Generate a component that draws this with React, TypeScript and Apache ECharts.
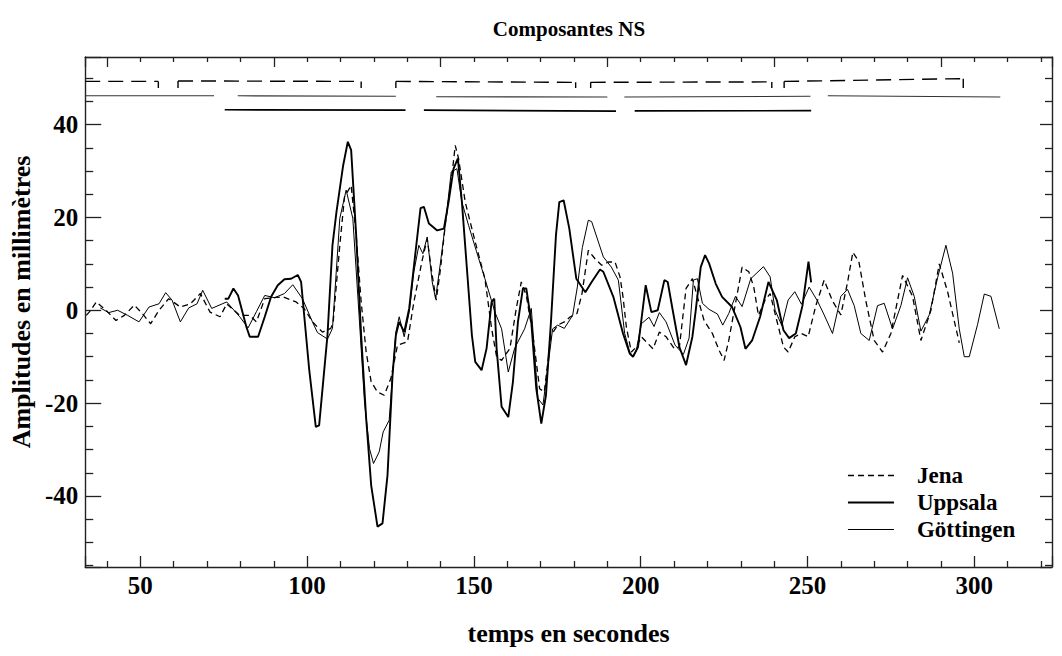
import { useEffect, useRef } from 'react';
import * as echarts from 'echarts';

const FONT = '"Liberation Serif", "Times New Roman", Times, serif';

const xRange = [33.48, 323.3];
const yRange = [-55.3, 54.56];

const jena: number[][] = [
  [33.8,-1.1],[34.8,-0.3],[36.8,1.8],[39.7,0],[42.7,-2.2],[45.2,-1.1],[48.2,1.1],[50.6,-0.7],[53.1,-2.9],[55.6,0],
  [58.5,2.5],[62,0.7],[65,1.4],[68,3.6],[70.9,-0.4],[73.9,-1.4],[75.9,1.4],[79.8,-1.1],[82.8,-1.1],[84.8,-2.5],
  [87.3,2.5],[89.7,2.7],[92.7,2.9],[96.7,1.8],[99.1,0.4],[101.6,-2.5],[104.6,-4.7],[107.1,-3.9],[107.8,-2.5],[109.8,14],
  [111.2,24.4],[113.2,26.9],[114.7,16.2],[116.2,1.8],[117.7,-9],[119.2,-15.4],[121.1,-17.6],[123.1,-18.3],[125.1,-14.7],[127.1,-7.5],
  [130.1,-6.8],[132,1.8],[134.5,10.8],[136,15.4],[137.5,7.5],[138.7,2.2],[140,9],[141.4,18.3],[143.4,29.1],[144.4,35.5],
  [145.4,32.7],[147.4,23.3],[150.4,14.7],[153.3,6.8],[155.3,-3.9],[156.8,-10],[158.3,-10.8],[160.8,-8.2],[162.7,0.4],[164.2,6.1],
  [165.7,3.2],[167.7,-5.4],[169.7,-16.9],[171.1,-17.6],[173.1,-5.4],[175.1,-3.2],[177.1,-2.5],[178.9,-1.4],[180.9,-0.7],[182.4,3.6],
  [184.3,12.9],[186.3,11.1],[188.3,9.7],[190.3,10.4],[192.3,10.4],[193.8,7.2],[194.7,2.9],[195.7,-3.6],[197.2,-9],[198.7,-7.9],
  [200.2,-5.7],[202.2,-7.2],[203.7,-8.3],[205.6,-4.7],[207.6,-5.7],[210.1,-8.3],[211.6,-7.9],[213.6,4.7],[215.5,6.8],[217,2.9],
  [219,-2.2],[221.5,-5],[223.5,-8.6],[225,-10.8],[226.4,-6.5],[228.4,1.4],[230.4,9.3],[232.4,8.3],[233.9,5],[235.3,-1.1],
  [237.3,2.2],[238.8,3.6],[240.8,-2.2],[242.8,-7.9],[244.2,-9],[246.2,-5.7],[248.2,-5],[250.2,-5.7],[252.5,1],[255,6.5],
  [257.5,2],[260,-1],[262,6],[263.6,12.5],[265.4,10.5],[267.5,2],[270,-6.5],[272.5,-9],[275,-5],[278.5,7.5],
  [281.5,3],[284,-6.5],[287,0],[289.5,10],[292,4],[295.5,-7]
];

const uppsala: number[][] = [
  [75.3,2.5],[76.4,2.5],[77.9,4.7],[79.3,3.2],[81.8,-3.6],[82.8,-5.7],[85.3,-5.7],[87.3,-1.4],[89.2,2.9],[91.2,5.4],
  [93.2,6.7],[95.2,6.8],[97.2,7.6],[98.2,6.1],[100.6,-12.6],[102.6,-25.1],[103.6,-24.8],[106.1,-5.4],[107.6,14],[108.8,21.2],
  [110.8,31.2],[112.2,36.3],[113.2,34.5],[114.7,16.2],[116.2,-5.4],[117.7,-23.3],[119.2,-37.7],[121.1,-46.6],[122.6,-45.9],[124.1,-35.5],
  [125.6,-14],[126.6,-5.4],[127.6,-2.5],[129.1,-4.7],[130.6,0.4],[132.5,12.6],[134,22],[135,22.3],[136.5,18.7],[139,17.2],
  [141,17.6],[142.4,23.3],[143.9,30.5],[145.2,32.7],[146.4,23.3],[147.9,9],[149.4,-5.4],[150.4,-11.1],[152.3,-12.9],[153.8,-8.2],
  [155.3,1.8],[156.1,2.5],[156.8,-8.2],[158.3,-20.8],[160.3,-23],[161.7,-15.4],[163.2,-2.5],[164.7,4.7],[165.7,4.7],[167.2,-2.5],
  [168.7,-16.9],[170.2,-24.4],[171.6,-18.3],[173.1,-2.5],[174.6,16.2],[175.6,23.3],[176.9,23.7],[178.6,17.6],[180.7,6.8],[183.4,3.9],
  [185.3,6.1],[187.8,8.8],[188.8,8.3],[191.8,2.9],[194.7,-5],[196.7,-9.3],[197.7,-10],[199.2,-7.9],[201.5,5.4],[203.2,-0.4],
  [205.1,0],[207.1,6.5],[208.1,6.1],[209.6,0],[211.6,-7.9],[213.6,-11.8],[215.5,-5.7],[216.5,0],[218,9.3],[219.3,11.9],
  [220.5,10.1],[222.5,5.7],[224.4,2.9],[227.4,0.7],[229.9,-3.6],[231.4,-8.3],[233.4,-6.5],[235.8,-1.4],[238.3,6.1],[240.8,2.2],
  [242.8,-4.3],[244.5,-6],[246.5,-5],[248.5,1],[250.3,10.5],[251.1,6]
];

const goettingen: number[][] = [
  [38,0.5],[40.5,-0.5],[43.2,0],[46.2,-1.1],[49.6,-2.5],[52.6,0.7],[55.6,1.4],[57.6,3.8],[59.5,2.2],[62,-2.5],
  [64.5,0.5],[67,1.4],[68.7,4.3],[71.4,0.4],[75.9,1.8],[79.8,-1.4],[82.3,-3.8],[84.8,-0.3],[87.3,3.2],[90.2,2.7],
  [93.2,3.6],[95.7,5.5],[98.6,2.5],[101.6,-2.5],[103.1,-4.8],[106.1,-6.2],[107.6,-3.9],[109.8,19.8],[111.7,25.9],[113.7,19.8],
  [115.7,-2.5],[117.2,-19.7],[118.7,-29.8],[119.9,-33],[121.6,-30.5],[122.8,-26.2],[124.6,-23.7],[125.6,-14],[126.6,-4.7],[127.6,-1.4],
  [129.1,-5.7],[130.6,-0.4],[132,8.3],[133.5,14],[134.7,12.2],[136,15.8],[137.5,6.1],[138.5,2.5],[140,10.4],[141.4,18.3],
  [143.2,29.8],[144.9,30.5],[146.4,23.3],[148.4,18.3],[150.8,12.6],[153.3,6.8],[156.3,-0.4],[158.3,-4],[160.3,-13.3],[162.2,-8.2],
  [165.2,-4],[167.2,0.4],[169.2,-19],[170.7,-20.4],[172.1,-12.6],[173.6,-4],[175.1,-3.2],[177.1,-3.9],[179.6,-1.1],[181,5],
  [182.5,13.5],[184.3,19.4],[185.3,19.1],[188.8,11.5],[191.2,9.3],[193.3,6.5],[195.2,-5],[196.7,-9],[197.7,-10],[198.7,-8.6],
  [200.2,-2.9],[202.5,-1.5],[204,-3.5],[205.6,-0.5],[207.6,-2.5],[210.3,-7.5],[212.8,-9.5],[214.5,-6],[215.8,6.5],[217,6.8],
  [218.5,1.5],[220.5,0.2],[223,-0.8],[224.6,-3.2],[226.4,-0.7],[228.4,3],[230.4,0.8],[233,6.8],[236.8,9.4],[238.8,7.2],
  [240.3,0],[242.3,-3.3],[244.2,2.2],[246.2,4],[248.2,1.3],[250.5,5],[253,2],[255,-1],[257.5,-5],[260,3],
  [262,4.5],[264,1],[266,-5],[268.5,-6.5],[271,1],[273,1.5],[275.5,-4],[278,1],[280,7],[282,3],
  [284,-4.5],[286.5,-1],[289,7],[291.5,14],[293.5,8],[295.5,-4],[297,-10],[298.5,-10],[301,-3],[303,3.5],
  [305,3],[307.5,-4]
];

// record coverage traces above the curves: [start, end, levelStart, levelEnd]
const jenaSpans: number[][] = [
  [33.48, 55.4, 49.3, 49.3], [61.3, 116.2, 49.4, 49.3], [126.6, 180.5, 49.3, 49.1],
  [185.0, 239.3, 49.1, 49.2], [243.0, 296.7, 49.3, 49.9]
];
const jenaTickLow = 47.9;
const goettingenSpans: number[][] = [
  [33.48, 72.1, 46.2, 46.2], [79.2, 126.6, 46.2, 46.1], [138.7, 190.0, 46.0, 45.95],
  [195.1, 250.9, 45.95, 46.1], [256.1, 307.8, 46.2, 45.95]
];
const uppsalaSpans: number[][] = [
  [75.3, 129.5, 43.2, 43.1], [135.0, 192.6, 43.1, 42.9], [198.2, 251.1, 42.95, 43.0]
];

const seriesNames = ['Jena', 'Uppsala', 'Göttingen'];
const titleText = 'Composantes NS';
const xTitle = 'temps en secondes';
const yTitle = 'Amplitudes en millimètres';

function spansToLine(spans: number[][]) {
  const out: (number[] | null)[] = [];
  spans.forEach((s, i) => {
    if (i > 0) out.push(null);
    out.push([s[0], s[2]], [s[1], s[3]]);
  });
  return out;
}

function spanTicks(spans: number[][], low: number) {
  const out: (number[] | null)[] = [];
  spans.forEach((s, i) => {
    if (i > 0) {
      out.push([s[0], low], [s[0], s[2]], null);
    }
    out.push([s[1], s[3]], [s[1], low], null);
  });
  return out;
}

const JENA_DASH = [6, 4];
const W_JENA = 1.3;
const W_UPPSALA = 1.9;
const W_GOETT = 1.0;

export default function App() {
  const ref = useRef<HTMLDivElement>(null);
  useEffect(() => {
    if (!ref.current) return;
    const chart = echarts.init(ref.current, undefined, { renderer: 'svg' });
    const axisColor = '#222';
    const tickLabel = { fontFamily: FONT, fontWeight: 'bold' as const, fontSize: 25, color: '#000' };
    const nameStyle = { fontFamily: FONT, fontWeight: 'bold' as const, fontSize: 26, color: '#000' };
    chart.setOption({
      animation: false,
      backgroundColor: '#fff',
      title: {
        text: titleText,
        left: 564,
        top: 13,
        textAlign: 'center',
        textStyle: { fontFamily: FONT, fontWeight: 'bold', fontSize: 21, color: '#000' },
      },
      legend: {
        data: [
          { name: seriesNames[0], itemStyle: { opacity: 0 }, lineStyle: { type: JENA_DASH, width: W_JENA, color: '#000' } },
          { name: seriesNames[1], itemStyle: { opacity: 0 }, lineStyle: { type: 'solid', width: W_UPPSALA, color: '#000' } },
          { name: seriesNames[2], itemStyle: { opacity: 0 }, lineStyle: { type: 'solid', width: W_GOETT, color: '#000' } },
        ],
        orient: 'vertical',
        left: 842,
        top: 459,
        itemWidth: 46,
        itemHeight: 14,
        itemGap: 4,
        textStyle: { fontFamily: FONT, fontWeight: 'bold', fontSize: 23, color: '#000', padding: [0, 0, 0, 18] },
      },
      grid: { left: 77, right: 10, top: 57, bottom: 89, containLabel: false },
      xAxis: [
        {
          type: 'value', position: 'bottom', min: xRange[0], max: xRange[1], splitNumber: 6,
          name: xTitle, nameLocation: 'middle', nameGap: 53,
          nameTextStyle: nameStyle,
          axisLine: { onZero: false, lineStyle: { color: axisColor, width: 1.4 } },
          axisTick: { inside: true, length: 11, lineStyle: { color: axisColor, width: 1.3 } },
          minorTick: { show: true, splitNumber: 5, length: 6, lineStyle: { color: axisColor, width: 1.3 } },
          axisLabel: { ...tickLabel, margin: 6, showMinLabel: false, showMaxLabel: false },
          splitLine: { show: false },
        },
        {
          type: 'value', position: 'top', min: xRange[0] + 10, max: xRange[1] + 10, splitNumber: 6,
          axisLine: { onZero: false, lineStyle: { color: axisColor, width: 1.4 } },
          axisTick: { inside: true, length: 10, lineStyle: { color: axisColor, width: 1.3 } },
          minorTick: { show: true, splitNumber: 5, length: 5, lineStyle: { color: axisColor, width: 1.3 } },
          axisLabel: { show: false },
          splitLine: { show: false },
        },
      ],
      yAxis: [
        {
          type: 'value', position: 'left', min: yRange[0], max: yRange[1], splitNumber: 5,
          name: yTitle, nameLocation: 'middle', nameGap: 42, nameRotate: 90,
          nameTextStyle: { ...nameStyle, padding: [0, 0, 0, 20] },
          axisLine: { onZero: false, lineStyle: { color: axisColor, width: 1.4 } },
          axisTick: { inside: true, length: 16, lineStyle: { color: axisColor, width: 1.3 } },
          minorTick: { show: true, splitNumber: 4, length: 8, lineStyle: { color: axisColor, width: 1.3 } },
          axisLabel: { ...tickLabel, margin: 7, showMinLabel: false, showMaxLabel: false },
          splitLine: { show: false },
        },
        {
          type: 'value', position: 'right', min: yRange[0], max: yRange[1], splitNumber: 5,
          axisLine: { onZero: false, lineStyle: { color: axisColor, width: 1.4 } },
          axisTick: { inside: true, length: 12, lineStyle: { color: axisColor, width: 1.3 } },
          minorTick: { show: true, splitNumber: 4, length: 7, lineStyle: { color: axisColor, width: 1.3 } },
          axisLabel: { show: false },
          splitLine: { show: false },
        },
      ],
      series: [
        {
          name: 'Jena', type: 'line', data: jena, symbol: 'none', showSymbol: false,
          lineStyle: { color: '#000', width: W_JENA, type: JENA_DASH }, itemStyle: { color: '#000' },
        },
        {
          name: 'Uppsala', type: 'line', data: uppsala, symbol: 'none', showSymbol: false,
          lineStyle: { color: '#000', width: W_UPPSALA }, itemStyle: { color: '#000' },
        },
        {
          name: 'Göttingen', type: 'line', data: goettingen, symbol: 'none', showSymbol: false,
          lineStyle: { color: '#000', width: W_GOETT }, itemStyle: { color: '#000' },
        },
        {
          name: 'jenaTrace', type: 'line', data: spansToLine(jenaSpans), symbol: 'none', connectNulls: false,
          lineStyle: { color: '#000', width: 1.4, type: [15, 8] }, silent: true,
        },
        {
          name: 'jenaTraceTicks', type: 'line', data: spanTicks(jenaSpans, jenaTickLow), symbol: 'none', connectNulls: false,
          lineStyle: { color: '#000', width: 1.4 }, silent: true,
        },
        {
          name: 'goettingenTrace', type: 'line', data: spansToLine(goettingenSpans), symbol: 'none', connectNulls: false,
          lineStyle: { color: '#333', width: 1.1 }, silent: true,
        },
        {
          name: 'uppsalaTrace', type: 'line', data: spansToLine(uppsalaSpans), symbol: 'none', connectNulls: false,
          lineStyle: { color: '#000', width: 1.7 }, silent: true,
        },
      ],
    });
    return () => chart.dispose();
  }, []);
  return <div ref={ref} style={{ position: 'absolute', left: 0, top: 0, width: 1062, height: 656 }} />;
}
